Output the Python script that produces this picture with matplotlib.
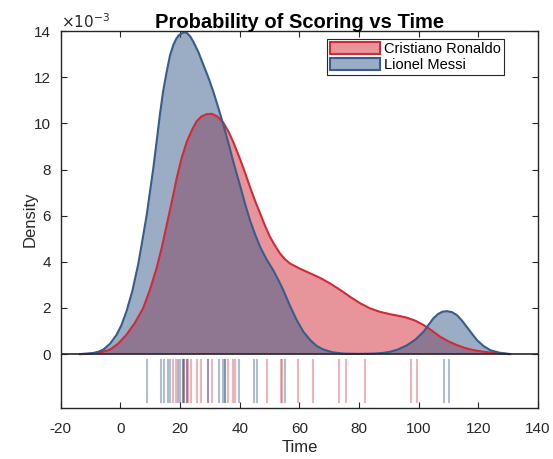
import numpy as np
import matplotlib
matplotlib.use("Agg")
import matplotlib.pyplot as plt

plt.rcParams['font.family'] = ['Liberation Sans', 'DejaVu Sans']
plt.rcParams['axes.unicode_minus'] = False

# density curves (time, density in units of 1e-3)
ronaldo_t = [-13.3, -10.0, -6.5, -3.6, -0.8, 2.0, 4.8, 7.6, 9.9, 12.1, 13.8,
             15.5, 17.2, 18.8, 20.5, 22.2, 23.9, 25.5, 27.1, 28.8, 30.6, 32.5,
             34.5, 36.2, 37.8, 40.1, 41.8, 43.4, 45.1, 46.8, 48.5, 50.1, 51.8,
             53.5, 55.1, 56.8, 60.2, 63.6, 67.0, 70.3, 73.7, 77.0, 80.4, 83.7,
             87.0, 90.4, 93.2, 96.0, 98.8, 101.6, 104.4, 107.2, 110.0, 112.8,
             115.6, 118.4, 121.2, 124.0, 127.0, 130.1]
ronaldo_d = [0.0, 0.02, 0.08, 0.19, 0.45, 0.84, 1.35, 1.99, 2.8, 3.73, 4.6,
             5.6, 6.6, 7.6, 8.5, 9.2, 9.7, 10.09, 10.3, 10.4, 10.42, 10.3,
             10.03, 9.65, 9.2, 8.45, 7.85, 7.25, 6.65, 6.1, 5.55, 5.09, 4.7,
             4.36, 4.12, 3.93, 3.7, 3.5, 3.3, 3.06, 2.78, 2.48, 2.2, 1.98,
             1.83, 1.73, 1.66, 1.58, 1.45, 1.26, 1.02, 0.75, 0.55, 0.39,
             0.26, 0.17, 0.11, 0.07, 0.03, 0.0]

messi_t = [-13.6, -11.0, -9.0, -7.5, -5.8, -3.5, -1.3, 0.3, 2.0, 4.0, 5.9,
           7.3, 8.8, 9.9, 11.0, 12.1, 13.2, 14.3, 15.5, 16.6, 17.7, 18.6,
           19.5, 21.3, 22.3, 23.4, 24.4, 26.1, 27.8, 29.5, 31.1, 32.8, 34.5,
           36.2, 37.8, 39.0, 40.1, 41.8, 43.4, 45.1, 46.8, 49.0, 51.2, 52.9,
           54.6, 56.8, 59.1, 61.3, 63.6, 65.8, 68.0, 71.0, 74.7, 80.0, 84.8,
           88.0, 90.4, 93.0, 96.0, 98.8, 101.6, 103.3, 104.9, 106.5, 108.0,
           109.4, 111.1, 112.8, 114.5, 116.1, 117.8, 119.5, 121.7, 124.0,
           127.0, 130.7]
messi_d = [0.0, 0.02, 0.05, 0.1, 0.19, 0.45, 0.84, 1.25, 1.85, 2.75, 3.87,
           4.9, 6.04, 7.05, 8.06, 9.2, 10.37, 11.4, 12.25, 12.95, 13.4, 13.65,
           13.82, 13.96, 13.92, 13.77, 13.55, 13.1, 12.54, 11.98, 11.39, 10.68,
           9.94, 9.15, 8.35, 7.8, 7.3, 6.5, 5.81, 5.2, 4.65, 4.1, 3.64, 3.22,
           2.77, 2.1, 1.47, 0.97, 0.61, 0.35, 0.2, 0.08, 0.02, 0.01, 0.02,
           0.05, 0.1, 0.2, 0.38, 0.62, 0.97, 1.27, 1.55, 1.74, 1.84,
           1.86, 1.82, 1.69, 1.45, 1.18, 0.89, 0.61, 0.35, 0.17,
           0.06, 0.0]

# goal times shown in the rug
ronaldo_goals = [17.7, 18.6, 20.8, 21.4, 22.2, 22.8, 23.5, 25.7, 27.1, 29.3,
                 30.8, 35.9, 37.8, 38.3, 49.0, 53.8, 54.3, 59.4, 64.6, 73.2,
                 75.5, 82.1, 97.3, 99.4]
messi_goals = [9.0, 13.6, 14.7, 16.0, 16.6, 19.2, 19.9, 20.8, 21.4, 22.2,
               29.3, 33.1, 34.5, 35.1, 35.1, 39.7, 44.6, 45.9, 55.2, 108.6,
               110.3]

red = (0.82, 0.17, 0.21)
blue = (0.22, 0.36, 0.55)
axcol = '#262626'

fig = plt.figure(figsize=(5.53, 4.59), dpi=100)
ax = fig.add_axes([0.110, 0.111, 0.863, 0.821])

ax.fill_between(ronaldo_t, ronaldo_d, 0, facecolor=red, alpha=0.5, linewidth=0)
ax.plot(ronaldo_t, ronaldo_d, color=red, lw=1.5)
ax.fill_between(messi_t, messi_d, 0, facecolor=blue, alpha=0.5, linewidth=0)
ax.plot(messi_t, messi_d, color=blue, lw=1.5)

# rug
for g in ronaldo_goals:
    ax.plot([g, g], [-0.26, -2.07], color=red, alpha=0.35, lw=1.5)
for g in messi_goals:
    ax.plot([g, g], [-0.26, -2.07], color=blue, alpha=0.4, lw=1.5)

ax.axhline(0, color=axcol, lw=1.2)

ax.set_xlim(-20, 140)
ax.set_ylim(-2.34, 14)
ax.set_xticks(np.arange(-20, 141, 20))
ax.set_yticks(np.arange(0, 15, 2))
ax.tick_params(direction='in', top=True, right=True, length=4, width=0.8,
               colors=axcol, labelsize=11, labelcolor=axcol)
ax.tick_params(axis='x', pad=10)
ax.tick_params(axis='y', pad=7)
for s in ax.spines.values():
    s.set_color(axcol)
    s.set_linewidth(1.0)

ax.text(0, 1.0, r'$\times10^{-3}$', transform=ax.transAxes, fontsize=11,
        color=axcol, va='bottom', ha='left')

ax.set_xlabel('Time', fontsize=12, color=axcol, va='center')
ax.set_ylabel('Density', fontsize=12, color=axcol, va='center')
ax.xaxis.set_label_coords(0.5, (408 - 447) / 377)
ax.yaxis.set_label_coords((30 - 61) / 477, 0.5)
ax.set_title('Probability of Scoring vs Time', fontsize=14.5, fontweight='bold',
             pad=2)

h1 = plt.Rectangle((0, 0), 1, 1, facecolor=(*red, 0.5), edgecolor=red, lw=1.5)
h2 = plt.Rectangle((0, 0), 1, 1, facecolor=(*blue, 0.5), edgecolor=blue, lw=1.5)
leg = ax.legend([h1, h2], ['Cristiano Ronaldo', 'Lionel Messi'],
                loc='upper right', bbox_to_anchor=(504 / 553, 1 - 39 / 459),
                bbox_transform=fig.transFigure, borderaxespad=0, fontsize=10.5,
                fancybox=False, edgecolor=axcol, framealpha=1,
                handlelength=3.4, handleheight=0.9, handletextpad=0.3,
                borderpad=0.2, labelspacing=0.15)
leg.get_frame().set_linewidth(0.8)

fig.savefig('out.png', dpi=100)
